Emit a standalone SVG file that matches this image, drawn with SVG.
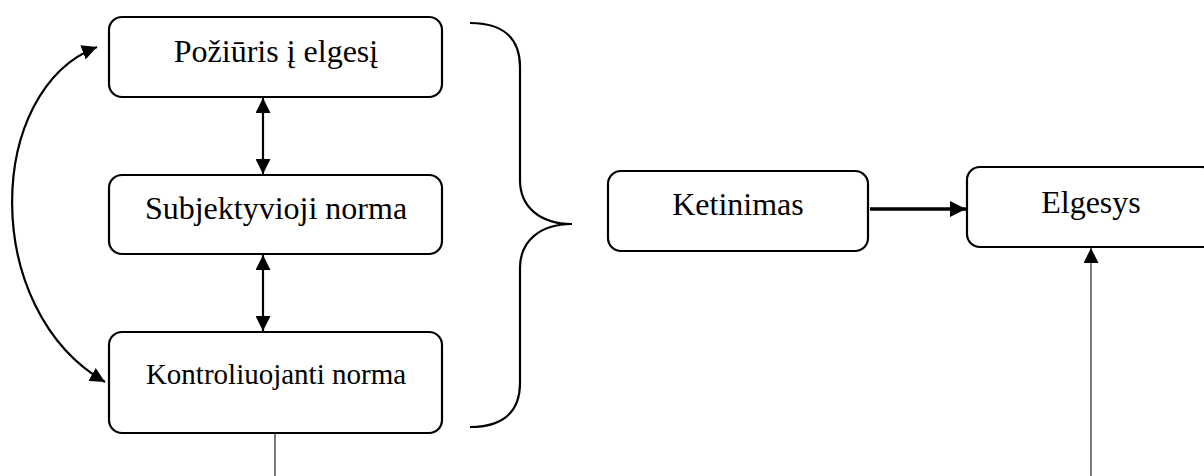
<svg xmlns="http://www.w3.org/2000/svg" width="1204" height="476" viewBox="0 0 1204 476">
<defs>
<style>
.box{fill:#fff;stroke:#000;stroke-width:2.2}
.thick{fill:none;stroke:#000;stroke-width:2.2}
.thin{fill:none;stroke:#333;stroke-width:1.3}
</style>
<marker id="ah" viewBox="0 0 10 10" refX="10" refY="5" markerWidth="15" markerHeight="15" markerUnits="userSpaceOnUse" orient="auto-start-reverse">
<path d="M0 0 L10 5 L0 10 Z" fill="#000"/>
</marker>
<marker id="ah2" viewBox="0 0 10 10" refX="10" refY="5" markerWidth="16" markerHeight="16" markerUnits="userSpaceOnUse" orient="auto">
<path d="M0 0 L10 5 L0 10 Z" fill="#000"/>
</marker>
</defs>
<g font-family="Liberation Serif, Times New Roman, serif" font-size="32" fill="#000" text-anchor="middle">
<g id="n-poziuris">
<rect class="box" x="109" y="17" width="333" height="80" rx="13"/>
<text x="276" y="62">Požiūris į elgesį</text>
</g>
<g id="n-subjektyvioji">
<rect class="box" x="109" y="175" width="333" height="79" rx="13"/>
<text x="276" y="219">Subjektyvioji norma</text>
</g>
<g id="n-kontroliuojanti">
<rect class="box" x="109" y="332" width="333" height="101" rx="13"/>
<text x="276" y="384" font-size="29">Kontroliuojanti norma</text>
</g>
<g id="n-ketinimas">
<rect class="box" x="608" y="171" width="260" height="80" rx="13"/>
<text x="738" y="215">Ketinimas</text>
</g>
<g id="n-elgesys">
<rect class="box" x="967" y="167" width="248" height="80" rx="13"/>
<text x="1091" y="213">Elgesys</text>
</g>
</g>
<g id="brace">
<path class="thick" d="M470 23 C505 23 520 40 520 67 L520 180 C520 207 540 224 572 224 C540 224 520 241 520 268 L520 383 C520 410 505 427 470 427"/>
</g>
<g id="connectors">
<path class="thick" d="M263 98 L263 174" marker-start="url(#ah)" marker-end="url(#ah)"/>
<path class="thick" d="M263 255 L263 331" marker-start="url(#ah)" marker-end="url(#ah)"/>
<path class="thick" d="M97 47 C-15 90 -20 310 105 382" marker-start="url(#ah)" marker-end="url(#ah)"/>
<path fill="none" stroke="#000" stroke-width="3.5" d="M870 209 L966 209" marker-end="url(#ah2)"/>
<path class="thin" d="M1091 476 L1091 248" marker-end="url(#ah)"/>
<path class="thin" d="M275 434 L275 476"/>
</g>
</svg>
